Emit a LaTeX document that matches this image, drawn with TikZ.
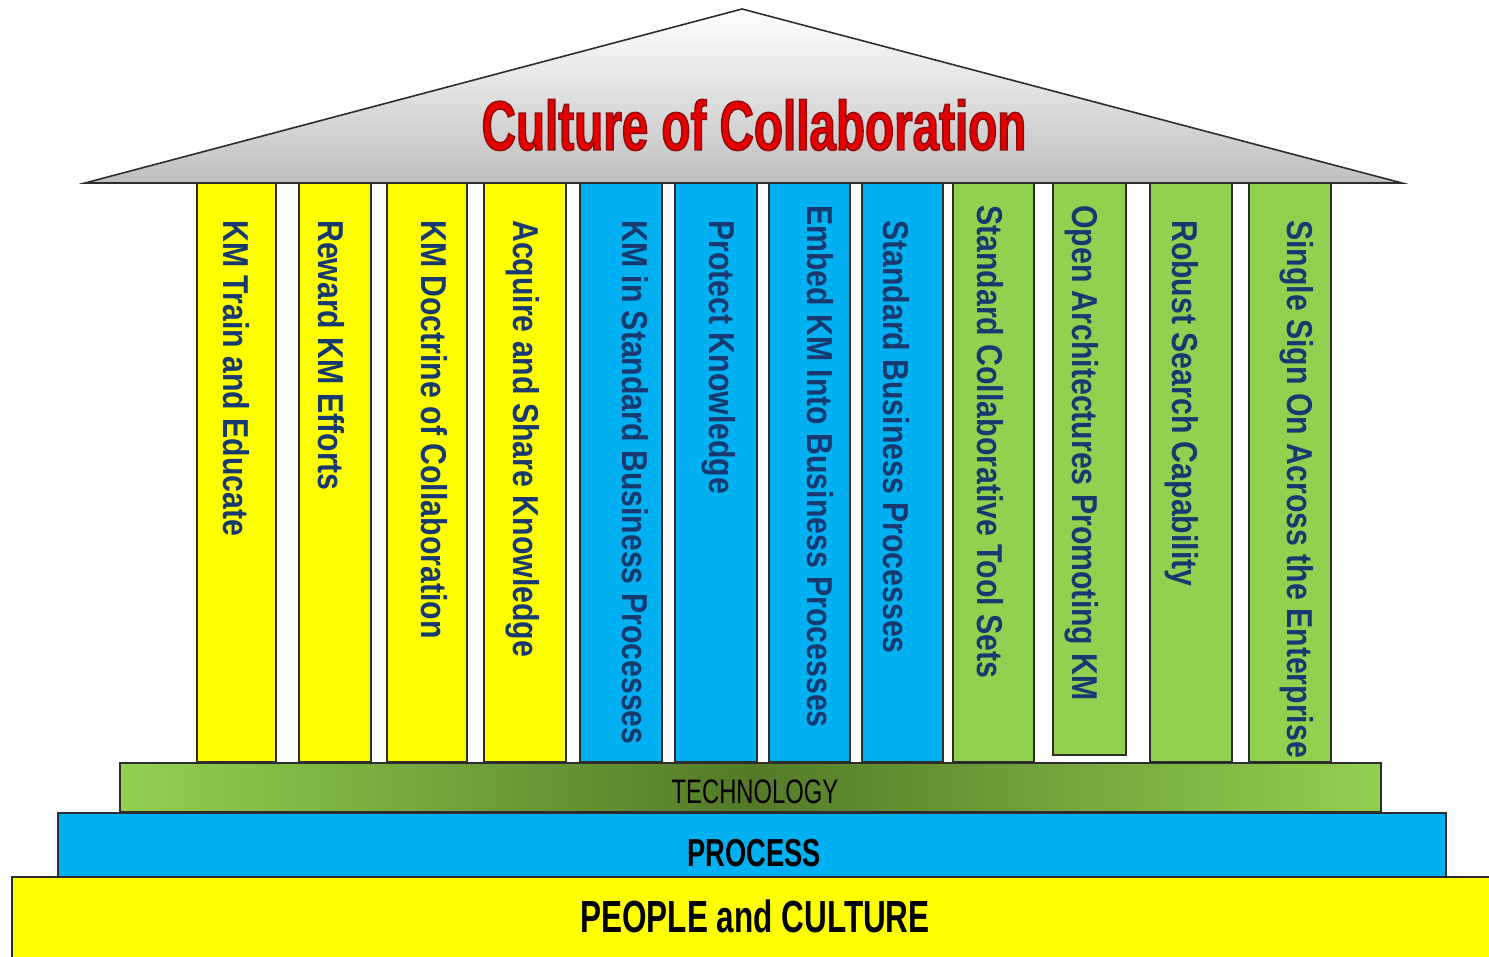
\documentclass[tikz,border=0pt]{standalone}
\usepackage{fontspec}
\setmainfont{Liberation Sans}
\newfontfamily\roofFont[FakeStretch=0.68]{Liberation Sans}
\newfontfamily\pillarFont[FakeStretch=0.84]{Liberation Sans}
\newfontfamily\baseFont[FakeStretch=0.70]{Liberation Sans}

\definecolor{pillaryellow}{RGB}{255,255,0}
\definecolor{pillarblue}{RGB}{0,176,240}
\definecolor{pillargreen}{RGB}{146,208,80}
\definecolor{techdark}{RGB}{84,122,40}
\definecolor{navytext}{RGB}{24,56,112}
\definecolor{titlered}{RGB}{228,0,0}
\definecolor{edge}{RGB}{45,45,45}

% dark edge round the title letters (fill and stroke the glyphs)
\newcommand{\edgedtext}[1]{\special{pdf:literal direct 2 Tr 1.4 w 0.55 0.05 0.05 RG}#1\special{pdf:literal direct 0 Tr}}

\begin{document}
\begin{tikzpicture}[x=1pt,y=-1pt]

    % let's define some key values
    \def\yroof{9}
    \def\ytop{183}
    \def\ybottom{762}
    \def\ytext{220}
    \def\ytextlong{205}

    % Styles
    \tikzstyle{pillar}=[draw=edge, line width=1.3pt]
    \tikzstyle{layer}=[draw=edge, line width=1.3pt]
    \tikzstyle{pillartext}=[rotate=-90, anchor=base west, inner sep=0pt, text=navytext,
        font=\pillarFont\bfseries\fontsize{36}{36}\selectfont]
    \tikzstyle{titletext}=[anchor=base, inner sep=0pt,
        font=\roofFont\bfseries\fontsize{70}{70}\selectfont]
    \tikzstyle{basetext}=[anchor=base, inner sep=0pt, text=black]

    \useasboundingbox (0,0) rectangle (1489,957);

    % yellow pillars
    \draw[pillar, fill=pillaryellow] (197,\ytop) rectangle (276,\ybottom);
    \node[pillartext] (train) at (223,\ytext) {KM Train and Educate};
    \draw[pillar, fill=pillaryellow] (299,\ytop) rectangle (371,\ybottom);
    \node[pillartext] (reward) at (318,\ytext) {Reward KM Efforts};
    \draw[pillar, fill=pillaryellow] (387,\ytop) rectangle (467,\ybottom);
    \node[pillartext] (doctrine) at (421,\ytext) {KM Doctrine of Collaboration};
    \draw[pillar, fill=pillaryellow] (484,\ytop) rectangle (566,\ybottom);
    \node[pillartext] (acquire) at (513,\ytext) {Acquire and Share Knowledge};

    % blue pillars
    \draw[pillar, fill=pillarblue] (580,\ytop) rectangle (662,\ybottom);
    \node[pillartext] (kmstandard) at (622,\ytext) {KM in Standard Business Processes};
    \draw[pillar, fill=pillarblue] (675,\ytop) rectangle (757,\ybottom);
    \node[pillartext] (protect) at (709,\ytext) {Protect Knowledge};
    \draw[pillar, fill=pillarblue] (769,\ytop) rectangle (850,\ybottom);
    \node[pillartext] (embed) at (807,\ytextlong) {Embed KM Into Business Processes};
    \draw[pillar, fill=pillarblue] (862,\ytop) rectangle (943,\ybottom);
    \node[pillartext] (bizproc) at (883,\ytext) {Standard Business Processes};

    % green pillars
    \draw[pillar, fill=pillargreen] (953,\ytop) rectangle (1034,\ybottom);
    \node[pillartext] (toolsets) at (977,\ytextlong) {Standard Collaborative Tool Sets};
    \draw[pillar, fill=pillargreen] (1053,\ytop) rectangle (1126,755);
    \node[pillartext] (openarch) at (1072,\ytextlong) {Open Architectures Promoting KM};
    \draw[pillar, fill=pillargreen] (1150,\ytop) rectangle (1232,\ybottom);
    \node[pillartext] (search) at (1172,\ytext) {Robust Search Capability};
    \draw[pillar, fill=pillargreen] (1249,\ytop) rectangle (1331,\ybottom);
    \node[pillartext] (signon) at (1287,\ytext) {Single Sign On Across the Enterprise};

    % technology layer
    \shade[left color=pillargreen, right color=pillargreen, middle color=techdark]
        (120,763) rectangle (1381,812);
    \draw[layer] (120,763) rectangle (1381,812);
    \node[basetext, font=\baseFont\fontsize{34}{34}\selectfont] (technology) at (755,803) {TECHNOLOGY};

    % process layer
    \draw[layer, fill=pillarblue] (58,813) rectangle (1446,877);
    \node[basetext, font=\baseFont\bfseries\fontsize{39}{39}\selectfont] (process) at (754,866) {PROCESS};

    % people layer
    \fill[pillaryellow] (12,877) rectangle (1489,957);
    \draw[layer] (12,957) -- (12,877) -- (1489,877);
    \node[basetext, font=\baseFont\bfseries\fontsize{45}{45}\selectfont] (people) at (755,932) {PEOPLE and CULTURE};

    % roof
    \shadedraw[top color=white, bottom color=gray!50, draw=edge, line width=1.6pt, line join=miter]
        (85,\ytop) -- (742,\yroof) -- (1402,\ytop) -- cycle;
    \node[titletext, text=titlered] (title) at (754,150) {\edgedtext{Culture of Collaboration}};

\end{tikzpicture}
\end{document}
